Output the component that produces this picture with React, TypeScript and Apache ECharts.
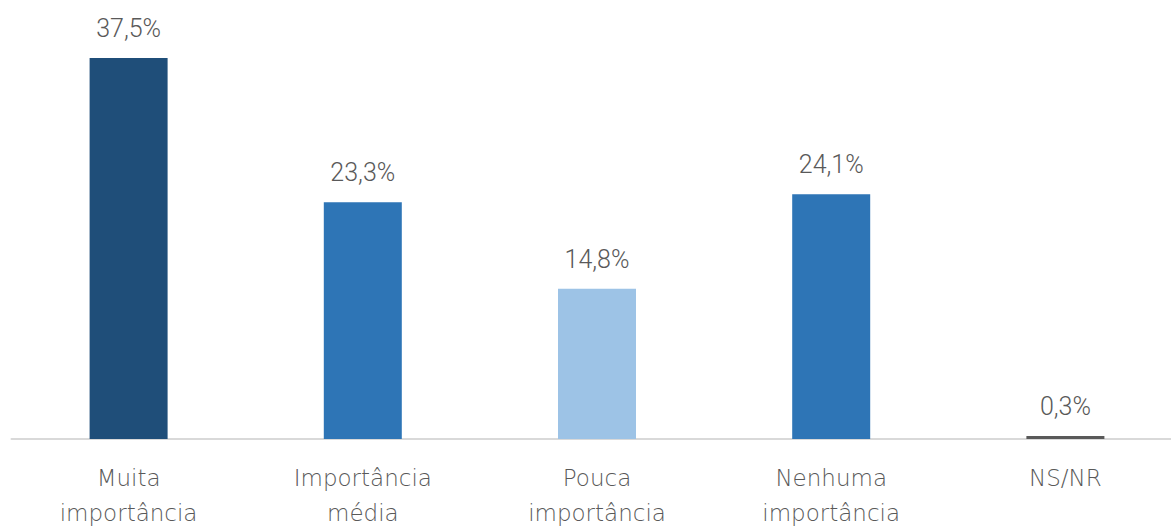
import React, { useEffect, useRef } from "react";
import * as echarts from "echarts";

const categories = ["Muita\nimportância", "Importância\nmédia", "Pouca\nimportância", "Nenhuma\nimportância", "NS/NR"];
const values = [37.5, 23.3, 14.8, 24.1, 0.3];
const colors = ["#1F4E79", "#2E75B6", "#9DC3E6", "#2E75B6", "#595959"];

export default function App() {
  const ref = useRef<HTMLDivElement>(null);
  useEffect(() => {
    const chart = echarts.init(ref.current!, null, { renderer: "svg" });
    chart.setOption({
      animation: false,
      grid: { left: 11.5, width: 1171, top: 32.6, height: 406.4, outerBoundsMode: "none" },
      xAxis: {
        type: "category",
        data: categories,
        axisLine: { lineStyle: { color: "#D9D9D9", width: 2 } },
        axisTick: { show: false },
        axisLabel: {
          color: "#595959",
          fontFamily: "DejaVu Sans",
          fontWeight: 200,
          fontSize: 23,
          lineHeight: 35,
          margin: 21,
          interval: 0,
        },
      },
      yAxis: { type: "value", min: 0, max: 40, show: false, splitLine: { show: false } },
      series: [
        {
          type: "bar",
          barWidth: 78,
          data: values.map((v, i) => ({ value: v, itemStyle: { color: colors[i] } })),
          label: {
            show: true,
            position: "top",
            distance: 17,
            color: "#595959",
            fontFamily: "Roboto",
            fontWeight: 300,
            fontSize: 25,
            formatter: (p: any) => p.value.toFixed(1).replace(".", ",") + "%",
          },
        },
      ],
    });
    return () => chart.dispose();
  }, []);
  return <div ref={ref} style={{ position: "absolute", left: 0, top: 0, width: 1171, height: 527 }} />;
}
